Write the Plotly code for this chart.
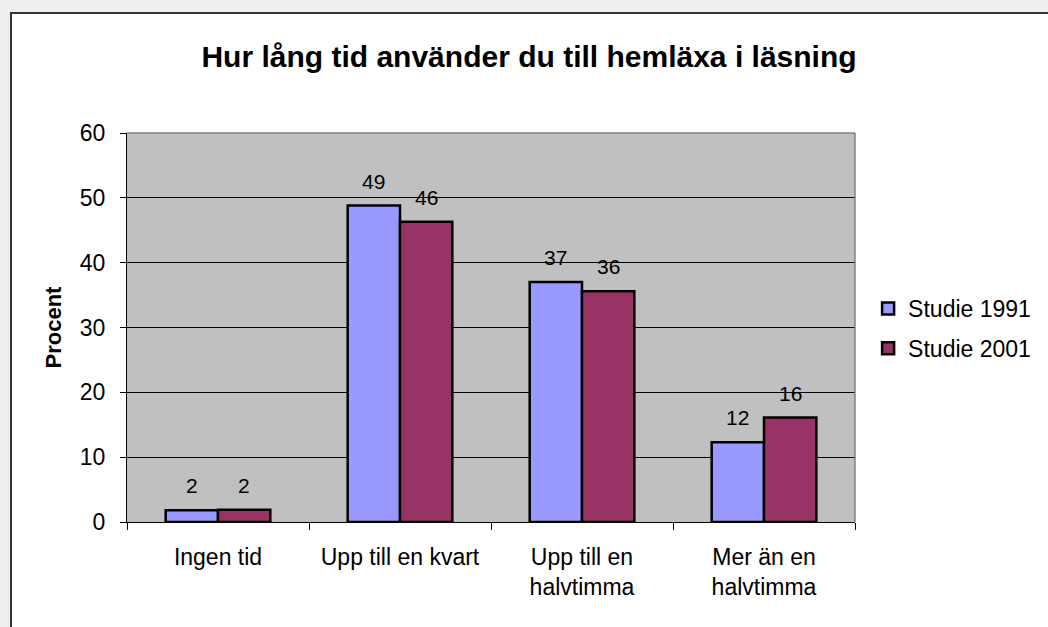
import plotly.graph_objects as go

categories = ["Ingen tid", "Upp till en kvart", "Upp till en<br>halvtimma", "Mer än en<br>halvtimma"]
series_names = ["Studie 1991", "Studie 2001"]
values_1991 = [1.8, 48.8, 37.0, 12.3]
values_2001 = [1.9, 46.3, 35.6, 16.1]
labels_1991 = ["2", "49", "37", "12"]
labels_2001 = ["2", "46", "36", "16"]
colors = ["#9999FF", "#993366"]

BARGAP = 0.425
FONT = "Liberation Sans, Arial, sans-serif"

fig = go.Figure()
for name, vals, col in zip(series_names, [values_1991, values_2001], colors):
    fig.add_trace(go.Bar(
        x=categories, y=vals, name=name, legendgroup=name,
        marker=dict(color=col, line=dict(color="black", width=2.5)),
    ))

# data labels above bars, computed from data and group geometry
half = (1 - BARGAP) / 4
annotations = []
for si, (vals, labs) in enumerate([(values_1991, labels_1991), (values_2001, labels_2001)]):
    off = -half if si == 0 else half
    for i, (v, t) in enumerate(zip(vals, labs)):
        annotations.append(dict(
            x=i + off, y=v, xref="x", yref="y", text=t, showarrow=False,
            yanchor="bottom", yshift=11,
            font=dict(family=FONT, size=21, color="black"),
        ))

L, R, T, B = 127, 193, 133, 105
W, H = 1048, 627
pw, ph = W - L - R, H - T - B
px = lambda p: (p - L) / pw
py = lambda p: (H - B - p) / ph

shapes = [
    # light grey outer strips
    dict(type="rect", xref="paper", yref="paper", x0=px(0), x1=px(10), y0=py(H + 5), y1=py(-5),
         fillcolor="#EEEEEE", line=dict(width=0), layer="below"),
    dict(type="rect", xref="paper", yref="paper", x0=px(0), x1=px(W + 5), y0=py(12), y1=py(-5),
         fillcolor="#EEEEEE", line=dict(width=0), layer="below"),
    # chart frame
    dict(type="line", xref="paper", yref="paper", x0=px(11), x1=px(11), y0=py(12), y1=py(H + 5),
         line=dict(color="#333333", width=2), layer="below"),
    dict(type="line", xref="paper", yref="paper", x0=px(10), x1=px(W + 5), y0=py(13), y1=py(13),
         line=dict(color="#333333", width=2), layer="below"),
    # plot area border (top, right)
    dict(type="line", xref="paper", yref="paper", x0=0, x1=1, y0=1, y1=1,
         line=dict(color="#808080", width=1.5), layer="above"),
    dict(type="line", xref="paper", yref="paper", x0=1, x1=1, y0=0, y1=1,
         line=dict(color="#808080", width=1.5), layer="above"),
]

fig.update_layout(
    width=W, height=H,
    margin=dict(l=L, r=R, t=T, b=B, autoexpand=False),
    paper_bgcolor="white",
    plot_bgcolor="#C0C0C0",
    barmode="group", bargap=BARGAP, bargroupgap=0,
    font=dict(family=FONT, color="black"),
    title=dict(text="<b>Hur lång tid använder du till hemläxa i läsning</b>",
               x=px(529), xanchor="center", xref="paper",
               y=1 - 56 / H, yanchor="middle",
               font=dict(family=FONT, size=30, color="black")),
    legend=dict(x=1.018, xanchor="left", y=py(287), yanchor="top",
                font=dict(family=FONT, size=23, color="black"),
                tracegroupgap=7, traceorder="grouped", bgcolor="rgba(0,0,0,0)"),
    annotations=annotations,
    shapes=shapes,
    showlegend=True,
)
fig.update_xaxes(
    showline=True, linecolor="black", linewidth=1,
    ticks="outside", tickson="boundaries", ticklen=7, tickcolor="black",
    tickfont=dict(family=FONT, size=23, color="black"),
    ticklabelstandoff=14,
    showgrid=False,
)
fig.update_yaxes(
    range=[0, 60], dtick=10,
    showline=True, linecolor="black", linewidth=1,
    ticks="outside", ticklen=6, tickcolor="black",
    tickfont=dict(family=FONT, size=23, color="black"),
    ticklabelstandoff=10,
    showgrid=True, gridcolor="black", gridwidth=1,
    zeroline=False,
    title=dict(text="<b>Procent</b>", font=dict(family=FONT, size=22, color="black"), standoff=12),
)

fig.write_html(
    "out.html",
    config={"displayModeBar": False},
    post_script="document.body.style.margin='0';document.body.style.padding='0';document.body.style.overflow='hidden';",
)
